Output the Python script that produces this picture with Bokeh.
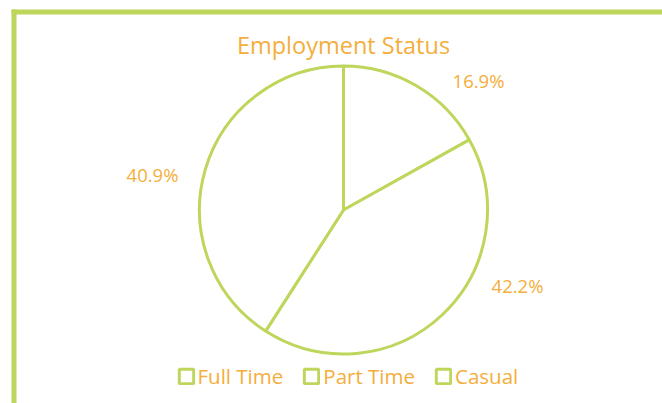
import math
from bokeh.plotting import figure
from bokeh.models import ColumnDataSource, Range1d, Label
from bokeh.core.properties import value
from bokeh.embed import file_html
from bokeh.resources import INLINE

# ---- data ----
categories = ["Full Time", "Part Time", "Casual"]
percentages = [16.9, 42.2, 40.9]
pie_labels = ["16.9%", "42.2%", "40.9%"]

# ---- style / layout ----
W, H = 662, 403
GREEN = "#bdd65b"
ORANGE = "#f4ae3c"
FONT = "Open Sans"
CX, CY, R = 343, 193.5, 144
# label offsets from the pie centre (layout), one per slice
label_dx = [135, 174, -191]
label_dy = [129.5, -75, 36]

total = sum(percentages)
start, end = [], []
cum = 0.0
for v in percentages:
    start.append(math.pi / 2 - cum / total * 2 * math.pi)
    cum += v
    end.append(math.pi / 2 - cum / total * 2 * math.pi)

src = ColumnDataSource(dict(
    category=categories,
    start=start,
    end=end,
    x=[CX] * 3,
    y=[CY] * 3,
))

p = figure(width=W, height=H, output_backend="svg", toolbar_location=None,
           x_range=Range1d(0, W), y_range=Range1d(0, H), min_border=0)
p.axis.visible = False
p.grid.visible = False
p.outline_line_color = None
p.background_fill_color = "white"
p.border_fill_color = "white"

# frame border (top and left)
p.quad(left=[11, 11], right=[16, W], bottom=[0, 389], top=[394, 394],
       fill_color=GREEN, line_color=None)

p.wedge(x="x", y="y", radius=R, start_angle="start", end_angle="end",
        direction="clock", source=src, fill_color="white",
        line_color=GREEN, line_width=3, legend_field="category")

lab_src = ColumnDataSource(dict(
    x=[CX + d for d in label_dx],
    y=[CY + d for d in label_dy],
    text=pie_labels,
))
p.text(x="x", y="y", text="text", source=lab_src, text_color=ORANGE,
       text_font=value(FONT), text_font_size="18.5px",
       text_align="center", text_baseline="middle")

p.add_layout(Label(x=CX, y=359, text="Employment Status", text_color=ORANGE,
                   text_font=FONT, text_font_size="23.5px", text_align="center",
                   text_baseline="middle"))

leg = p.legend[0]
leg.orientation = "horizontal"
leg.location = (176.5, 13.5)
leg.padding = 0
leg.margin = 0
leg.spacing = 19
leg.glyph_width = 18
leg.glyph_height = 18
leg.label_height = 18
leg.label_standoff = 3
leg.label_text_color = ORANGE
leg.label_text_font = FONT
leg.label_text_font_size = "20.5px"
leg.label_text_baseline = "middle"
leg.border_line_color = None
leg.background_fill_alpha = 0

open("out.html", "w").write(file_html(p, INLINE))
